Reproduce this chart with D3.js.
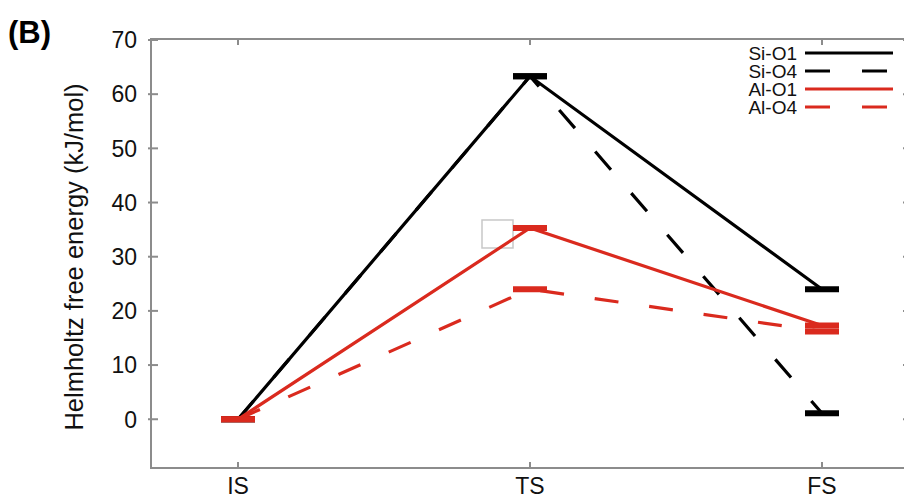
<!DOCTYPE html>
<html>
<head>
<meta charset="utf-8">
<script src="https://cdn.jsdelivr.net/npm/d3@7"></script>
<style>
  body { margin: 0; background: #fff; }
  svg { display: block; font-family: "Liberation Sans", Arial, Helvetica, sans-serif; }
  .frame { stroke: #8c8c8c; stroke-width: 2; fill: none; }
  .tick { stroke: #8c8c8c; stroke-width: 2; }
  .ylab { font-size: 23px; fill: #111; text-anchor: end; }
  .xlab { font-size: 23px; fill: #111; text-anchor: middle; }
  .ltext { font-size: 19px; fill: #111; text-anchor: end; }
</style>
</head>
<body>
<svg width="904" height="500"></svg>
<script>
// reaction coordinate
const states = ["IS", "TS", "FS"]
// series
const seriesNames = ["Si-O1", "Si-O4", "Al-O1", "Al-O4"]
const siO1 = [0, 63.3, 24.0]
const siO4 = [0, 63.3, 1.1]
const alO1 = [0, 35.3, 17.3]
const alO4 = [0, 24.0, 16.2]
const yTicks = [0, 10, 20, 30, 40, 50, 60, 70]

const black = "#000"
const red = "#da2a1e"
const series = [
  {name: seriesNames[0], values: siO1, color: black, dash: null},
  {name: seriesNames[1], values: siO4, color: black, dash: "24,31"},
  {name: seriesNames[2], values: alO1, color: red, dash: null},
  {name: seriesNames[3], values: alO4, color: red, dash: "24,31"}
]

const svg = d3.select("svg")

const plotL = 151, plotR = 910, plotT = 39, plotB = 468

const x = d3.scalePoint()
  .domain(states)
  .range([238, 822])

const y = d3.scaleLinear()
  .domain([-9, 70])
  .range([plotB, 40])

// frame
svg.append("path")
  .attr("class", "frame")
  .attr("d", `M${plotL},${plotT}V${plotB}H${plotR}V${plotT}Z`)

// y ticks (mirrored)
yTicks.forEach(t => {
  svg.append("line").attr("class", "tick")
    .attr("x1", plotL - 3).attr("x2", plotL + 7)
    .attr("y1", y(t)).attr("y2", y(t))
  svg.append("line").attr("class", "tick")
    .attr("x1", plotR - 7).attr("x2", plotR)
    .attr("y1", y(t)).attr("y2", y(t))
  svg.append("text").attr("class", "ylab")
    .attr("x", 137).attr("y", y(t)).attr("dy", "0.36em")
    .text(t)
})

// x ticks (mirrored)
states.forEach(s => {
  svg.append("line").attr("class", "tick")
    .attr("x1", x(s)).attr("x2", x(s))
    .attr("y1", plotB - 6).attr("y2", plotB)
  svg.append("line").attr("class", "tick")
    .attr("x1", x(s)).attr("x2", x(s))
    .attr("y1", plotT).attr("y2", plotT + 6)
  svg.append("text").attr("class", "xlab")
    .attr("x", x(s)).attr("y", 494)
    .text(s)
})

// y title
svg.append("text")
  .attr("transform", `translate(83, 257) rotate(-90)`)
  .attr("text-anchor", "middle")
  .style("font-size", "25.5px")
  .attr("fill", "#111")
  .text("Helmholtz free energy (kJ/mol)")

// panel label
svg.append("text")
  .attr("x", 8).attr("y", 43)
  .style("font-size", "31px")
  .style("font-weight", "bold")
  .text("(B)")

// small grey box artefact near TS
svg.append("rect")
  .attr("x", x("TS") - 48).attr("y", y(alO1[1]) - 8)
  .attr("width", 31).attr("height", 28)
  .attr("fill", "none")
  .attr("stroke", "#c8c8c8")
  .attr("stroke-width", 1.5)

const line = d3.line()
  .x((d, i) => x(states[i]))
  .y(d => y(d))

const barW = 34

series.forEach(s => {
  svg.append("path")
    .datum(s.values)
    .attr("d", line)
    .attr("fill", "none")
    .attr("stroke", s.color)
    .attr("stroke-width", 3.2)
    .attr("stroke-dasharray", s.dash)

  svg.selectAll(null)
    .data(s.values)
    .enter().append("line")
    .attr("x1", (d, i) => x(states[i]) - barW / 2)
    .attr("x2", (d, i) => x(states[i]) + barW / 2)
    .attr("y1", d => y(d))
    .attr("y2", d => y(d))
    .attr("stroke", s.color)
    .attr("stroke-width", 6)
})

// legend
const legend = svg.selectAll("g.legend")
  .data(series)
  .enter().append("g")
  .attr("class", "legend")
  .attr("transform", (d, i) => `translate(0, ${53 + i * 18})`)

legend.append("text")
  .attr("class", "ltext")
  .attr("x", 797).attr("y", 0).attr("dy", "0.36em")
  .text(d => d.name)

legend.append("line")
  .attr("x1", 805).attr("x2", 893)
  .attr("y1", 0).attr("y2", 0)
  .attr("stroke", d => d.color)
  .attr("stroke-width", 3)
  .attr("stroke-dasharray", d => d.dash ? "25,32" : null)
</script>
</body>
</html>
